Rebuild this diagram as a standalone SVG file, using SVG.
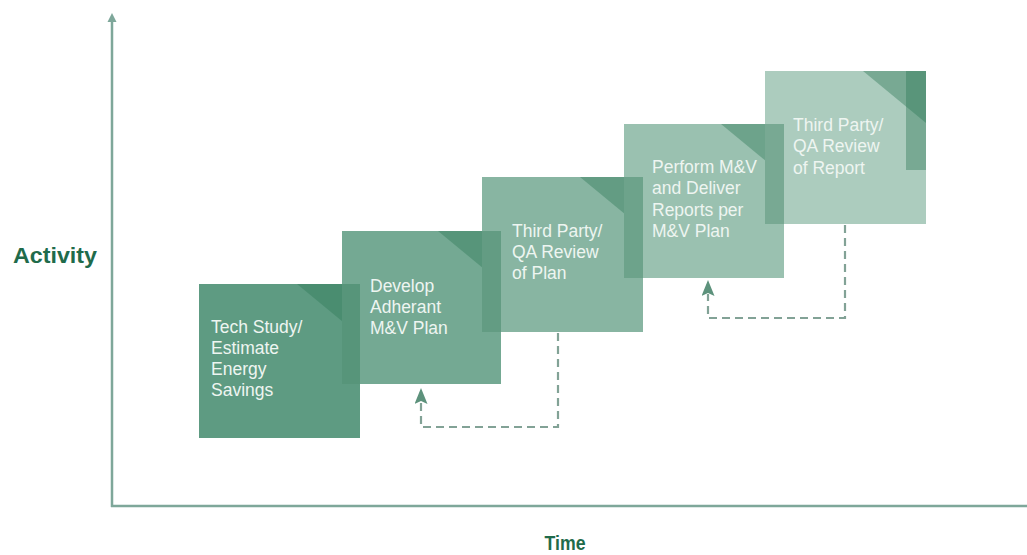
<svg xmlns="http://www.w3.org/2000/svg" width="1027" height="555" viewBox="0 0 1027 555">
  <defs>
    <style>
      .axis { stroke: #7ea79a; stroke-width: 2.5; fill: none; }
      .axis-label { font-family: "Liberation Sans", Arial, sans-serif; font-weight: bold; fill: #1f6b4b; }
      .step-text { font-family: "Liberation Sans", Arial, sans-serif; font-size: 17.5px; fill: #eef5f1; }
      .shade { fill: #2f7a57; fill-opacity: 0.42; }
      .loop { stroke: #82a296; stroke-width: 2.2; stroke-dasharray: 8 5; fill: none; }
    </style>
    <marker id="loop-head" viewBox="0 0 16 13" refX="2" refY="6.5" markerWidth="16" markerHeight="13" markerUnits="userSpaceOnUse" orient="auto">
      <path d="M0,0 L16,6.5 L0,13 L3,6.5 z" fill="#5d927c"/>
    </marker>
  </defs>

  <rect width="1027" height="555" fill="#ffffff"/>

  <!-- axes -->
  <g id="axes">
    <line class="axis" x1="112" y1="20" x2="112" y2="507"/>
    <polygon points="112,13 107.5,22 116.5,22" fill="#7ea79a"/>
    <line class="axis" x1="111" y1="506" x2="1027" y2="506"/>
    <text class="axis-label" x="13" y="263" font-size="22" textLength="84" lengthAdjust="spacingAndGlyphs">Activity</text>
    <text class="axis-label" x="565" y="550" font-size="21" text-anchor="middle" textLength="41" lengthAdjust="spacingAndGlyphs">Time</text>
  </g>

  <!-- step 1 -->
  <g id="step-tech-study">
    <rect x="199" y="284" width="161" height="154" fill="#5e9b82"/>
    <polygon class="shade" points="297,284 360,284 360,336"/>
    <text class="step-text"><tspan x="211" y="333">Tech Study/</tspan><tspan x="211" y="354">Estimate</tspan><tspan x="211" y="375">Energy</tspan><tspan x="211" y="396">Savings</tspan></text>
  </g>

  <!-- step 2 -->
  <g id="step-develop-plan">
    <rect x="342" y="231" width="159" height="153" fill="#74a993"/>
    <polygon class="shade" points="438,231 501,231 501,283"/>
    <text class="step-text"><tspan x="370" y="292">Develop</tspan><tspan x="370" y="313">Adherant</tspan><tspan x="370" y="334">M&amp;V Plan</tspan></text>
  </g>

  <!-- step 3 -->
  <g id="step-review-plan">
    <rect x="482" y="177" width="161" height="155" fill="#88b5a2"/>
    <polygon class="shade" points="580,177 643,177 643,229"/>
    <text class="step-text"><tspan x="512" y="237">Third Party/</tspan><tspan x="512" y="258">QA Review</tspan><tspan x="512" y="279">of Plan</tspan></text>
  </g>

  <!-- step 4 -->
  <g id="step-perform-mv">
    <rect x="624" y="124" width="160" height="154" fill="#9ac1b0"/>
    <polygon class="shade" points="721,124 784,124 784,176"/>
    <text class="step-text"><tspan x="652" y="173">Perform M&amp;V</tspan><tspan x="652" y="194">and Deliver</tspan><tspan x="652" y="216">Reports per</tspan><tspan x="652" y="237">M&amp;V Plan</tspan></text>
  </g>

  <!-- step 5 -->
  <g id="step-review-report">
    <rect x="765" y="71" width="161" height="153" fill="#acccbe"/>
    <polygon class="shade" points="863,71 926,71 926,123"/>
    <text class="step-text"><tspan x="793" y="131">Third Party/</tspan><tspan x="793" y="152">QA Review</tspan><tspan x="793" y="174">of Report</tspan></text>
  </g>

  <!-- darker seams where each step hands over to the next -->
  <g id="seams">
    <rect class="shade" x="342" y="284" width="18" height="100"/>
    <rect class="shade" x="482" y="231" width="19" height="101"/>
    <rect class="shade" x="624" y="177" width="19" height="101"/>
    <rect class="shade" x="765" y="124" width="19" height="100"/>
    <rect class="shade" x="906" y="71" width="20" height="99"/>
  </g>

  <!-- feedback loops -->
  <g id="connectors">
    <path class="loop" d="M558,333 V427 H421 V402" marker-end="url(#loop-head)"/>
    <path class="loop" d="M845,225 V318 H708 V294" marker-end="url(#loop-head)"/>
  </g>
</svg>
